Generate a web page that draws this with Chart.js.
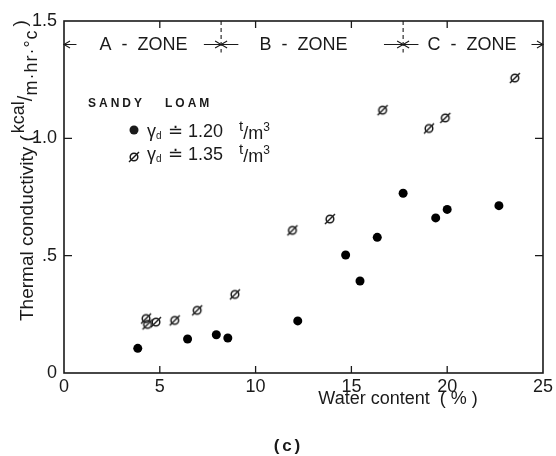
<!DOCTYPE html>
<html>
<head>
<meta charset="utf-8">
<script src="https://cdn.jsdelivr.net/npm/chart.js@4.4.1/dist/chart.umd.min.js"></script>
<style>
  html, body { margin: 0; padding: 0; background: #fff; }
  #wrap { width: 556px; height: 456px; }
</style>
</head>
<body>
<div id="wrap"><canvas id="chart" width="556" height="456"></canvas></div>
<script>
// --- Dati: sandy loam, conducibilità termica vs contenuto d'acqua ---
const water120 = [3.85, 6.45, 7.95, 8.55, 12.2, 14.7, 15.45, 16.35, 17.7, 19.4, 20.0, 22.7];
const cond120  = [0.105, 0.145, 0.163, 0.149, 0.222, 0.503, 0.392, 0.578, 0.766, 0.661, 0.697, 0.713];

const water135 = [4.28, 4.36, 4.8, 5.78, 6.95, 8.92, 11.92, 13.88, 16.63, 19.05, 19.9, 23.53];
const cond135  = [0.232, 0.207, 0.217, 0.224, 0.267, 0.335, 0.608, 0.656, 1.12, 1.042, 1.087, 1.257];

const xTickValues = [0, 5, 10, 15, 20, 25];
const yTickValues = [0, 0.5, 1.0, 1.5];
const yTickLabels = ["0", ".5", "1.0", "1.5"];

// zone (limiti in % d'acqua) e riga delle frecce
const zoneNames = ["A  -  ZONE", "B  -  ZONE", "C  -  ZONE"];
const zoneCenters = [4.15, 12.5, 21.3];
const zoneLimits = [8.2, 17.7];
const zoneRowValue = 1.4;

const INK = "#1a1a1a";
const FONT = "'Liberation Sans', 'DejaVu Sans', sans-serif";

// simbolo "cerchio barrato" per la serie 1.35
function makeSlashedCircle() {
    const c = document.createElement("canvas");
    c.width = 16; c.height = 16;
    const g = c.getContext("2d");
    g.strokeStyle = INK;
    g.lineWidth = 1.5;
    g.beginPath();
    g.arc(8, 8, 3.8, 0, Math.PI * 2);
    g.stroke();
    g.beginPath();
    g.moveTo(3, 13);
    g.lineTo(13, 3);
    g.stroke();
    return c;
}
const slashed = makeSlashedCircle();

function toPoints(xs, ys) {
    return xs.map((x, i) => ({ x: x, y: ys[i] }));
}

function arrow(ctx, x1, x2, y) {
    // linea da x1 a x2, punta su x2
    const dir = x2 > x1 ? 1 : -1;
    ctx.beginPath();
    ctx.moveTo(x1, y);
    ctx.lineTo(x2, y);
    ctx.moveTo(x2 - dir * 6, y - 3.5);
    ctx.lineTo(x2, y);
    ctx.lineTo(x2 - dir * 6, y + 3.5);
    ctx.stroke();
}

// === CORNICE, TACCHE INTERNE, ZONE, LEGENDA E TITOLI ===
const decorations = {
    id: "decorations",
    afterDraw(chart) {
        const ctx = chart.ctx;
        const a = chart.chartArea;
        const xs = chart.scales.x;
        const ys = chart.scales.y;
        ctx.save();
        ctx.strokeStyle = INK;
        ctx.fillStyle = INK;

        // cornice
        ctx.lineWidth = 1.6;
        ctx.strokeRect(a.left, a.top, a.right - a.left, a.bottom - a.top);

        // tacche verso l'interno
        ctx.lineWidth = 1.3;
        xTickValues.slice(1, -1).forEach(v => {
            const px = xs.getPixelForValue(v);
            ctx.beginPath();
            ctx.moveTo(px, a.bottom); ctx.lineTo(px, a.bottom - 7);
            ctx.moveTo(px, a.top); ctx.lineTo(px, a.top + 7);
            ctx.stroke();
        });
        yTickValues.slice(1, -1).forEach(v => {
            const py = ys.getPixelForValue(v);
            ctx.beginPath();
            ctx.moveTo(a.left, py); ctx.lineTo(a.left + 8, py);
            ctx.moveTo(a.right, py); ctx.lineTo(a.right - 8, py);
            ctx.stroke();
        });

        // zone
        const rowY = ys.getPixelForValue(zoneRowValue);
        ctx.lineWidth = 1.1;
        zoneLimits.forEach(v => {
            const px = xs.getPixelForValue(v);
            ctx.setLineDash([4, 3]);
            ctx.beginPath();
            ctx.moveTo(px, a.top); ctx.lineTo(px, rowY + 8);
            ctx.stroke();
            ctx.setLineDash([]);
        });
        const px = v => xs.getPixelForValue(v);
        arrow(ctx, px(0.65), px(0), rowY);
        arrow(ctx, px(7.3), px(8.2), rowY);
        arrow(ctx, px(9.1), px(8.2), rowY);
        arrow(ctx, px(16.7), px(17.7), rowY);
        arrow(ctx, px(18.5), px(17.7), rowY);
        arrow(ctx, px(24.4), px(25), rowY);

        ctx.font = "18px " + FONT;
        ctx.textAlign = "center";
        ctx.textBaseline = "middle";
        zoneNames.forEach((name, i) => {
            ctx.fillText(name, px(zoneCenters[i]), rowY + 1);
        });

        // legenda
        ctx.textAlign = "left";
        ctx.font = "bold 12px " + FONT;
        ctx.letterSpacing = "3px";
        ctx.fillText("SANDY", 88, 104);
        ctx.fillText("LOAM", 165, 104);
        ctx.letterSpacing = "0px";

        ctx.beginPath();
        ctx.arc(134, 130, 4.5, 0, Math.PI * 2);
        ctx.fill();
        ctx.drawImage(slashed, 134 - 8, 157 - 8);

        const rows = [["1.20", 132], ["1.35", 155]];
        rows.forEach(([val, y]) => {
            let x = 147;
            ctx.font = "18px " + FONT;
            ctx.fillText("\u03B3", x, y);
            x += ctx.measureText("\u03B3").width;
            ctx.font = "10px " + FONT;
            ctx.fillText("d", x, y + 4);
            x += 12;
            ctx.font = "18px " + FONT;
            const mid = "\u2250 " + val;
            ctx.fillText(mid, x, y);
            x += ctx.measureText(mid).width + 16;
            ctx.font = "15px " + FONT;
            ctx.fillText("t", x, y - 5);
            x += ctx.measureText("t").width;
            ctx.font = "18px " + FONT;
            ctx.fillText("/m", x, y + 2);
            x += ctx.measureText("/m").width;
            ctx.font = "12px " + FONT;
            ctx.fillText("3", x, y - 4);
        });

        // titolo asse x
        ctx.font = "18px " + FONT;
        ctx.textAlign = "center";
        ctx.fillText("Water content  ( % )", 398, 399);

        // didascalia
        ctx.font = "bold 17px 'Liberation Mono', monospace";
        ctx.fillText("(c)", 287, 447);

        // titolo asse y (ruotato)
        ctx.translate(28, 321);
        ctx.rotate(-Math.PI / 2);
        ctx.textAlign = "left";
        let t = 0;
        ctx.font = "19px " + FONT;
        const part1 = "Thermal conductivity (";
        ctx.fillText(part1, t, 0);
        t += ctx.measureText(part1).width + 2;
        ctx.font = "18px " + FONT;
        ctx.fillText("kcal", t, -9);
        t += ctx.measureText("kcal").width;
        ctx.font = "20px " + FONT;
        ctx.fillText("/", t, -2);
        t += ctx.measureText("/").width;
        ctx.font = "18px " + FONT;
        ctx.letterSpacing = "1px";
        ctx.fillText("m\u00B7hr\u00B7\u00B0c", t, 4);
        t += ctx.measureText("m\u00B7hr\u00B7\u00B0c").width + 3;
        ctx.letterSpacing = "0px";
        ctx.font = "19px " + FONT;
        ctx.fillText(")", t, -7);

        ctx.restore();
    }
};

new Chart(document.getElementById("chart"), {
    type: "scatter",
    data: {
        datasets: [
            {
                label: "1.20",
                data: toPoints(water120, cond120),
                pointStyle: "circle",
                pointRadius: 4.5,
                pointBackgroundColor: "#000",
                pointBorderColor: "#000",
                pointBorderWidth: 0
            },
            {
                label: "1.35",
                data: toPoints(water135, cond135),
                pointStyle: slashed,
                pointRadius: 5
            }
        ]
    },
    options: {
        responsive: false,
        animation: false,
        layout: { padding: { top: 21, right: 7, left: 0, bottom: 0 } },
        plugins: {
            legend: { display: false },
            tooltip: { enabled: false }
        },
        scales: {
            x: {
                type: "linear",
                min: 0,
                max: 25,
                afterBuildTicks: s => { s.ticks = xTickValues.map(v => ({ value: v })); },
                afterFit: s => { s.height = 83; },
                grid: { display: false, drawTicks: false },
                border: { display: false },
                ticks: {
                    color: INK,
                    padding: 3,
                    maxRotation: 0,
                    font: { family: FONT, size: 18 },
                    callback: v => String(v)
                }
            },
            y: {
                type: "linear",
                min: 0,
                max: 1.5,
                afterBuildTicks: s => { s.ticks = yTickValues.map(v => ({ value: v })); },
                afterFit: s => { s.width = 64; },
                grid: { display: false, drawTicks: false },
                border: { display: false },
                ticks: {
                    color: INK,
                    padding: 7,
                    font: { family: FONT, size: 18 },
                    callback: v => yTickLabels[yTickValues.indexOf(v)] ?? ""
                }
            }
        }
    },
    plugins: [decorations]
});
</script>
</body>
</html>
